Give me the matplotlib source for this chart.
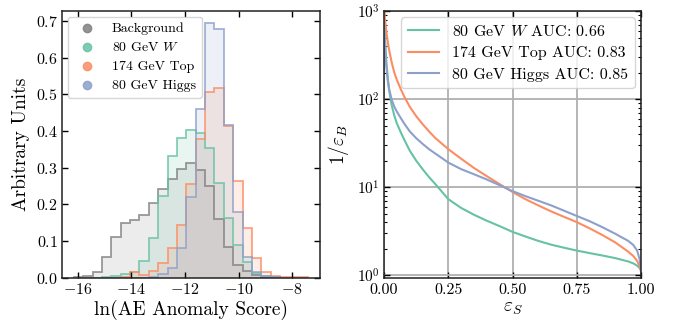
import numpy as np
import matplotlib
matplotlib.use("Agg")
import matplotlib.pyplot as plt

plt.rcParams['font.family'] = 'serif'
plt.rcParams['font.serif'] = ['cmr10']
plt.rcParams['mathtext.fontset'] = 'cm'
plt.rcParams['axes.unicode_minus'] = False
plt.rcParams['axes.formatter.use_mathtext'] = True

# ---------------- data ----------------
bin_edges = -16.15 + 0.35 * np.arange(26)

hist_labels = ["Background", "80 GeV $W$", "174 GeV Top", "80 GeV Higgs"]
hist_colors = ["#808080", "#66c2a5", "#fc8d62", "#8da0cb"]

bkg_density = [0.001, 0.003, 0.014, 0.055, 0.110, 0.150, 0.158, 0.170, 0.202, 0.242,
               0.269, 0.296, 0.311, 0.294, 0.249, 0.159, 0.084, 0.035, 0.017, 0.006,
               0.002, 0.001, 0.0, 0.0, 0.0]
w_density = [0.0, 0.0, 0.0, 0.001, 0.005, 0.010, 0.016, 0.045, 0.108, 0.221,
             0.331, 0.381, 0.402, 0.394, 0.352, 0.259, 0.162, 0.088, 0.043, 0.011,
             0.004, 0.001, 0.0, 0.0, 0.0]
top_density = [0.0, 0.0, 0.0, 0.0, 0.0, 0.002, 0.015, 0.008, 0.017, 0.040,
               0.081, 0.142, 0.255, 0.378, 0.505, 0.517, 0.413, 0.262, 0.135, 0.052,
               0.014, 0.004, 0.001, 0.002, 0.002]
higgs_density = [0.0, 0.0, 0.0, 0.0, 0.0, 0.0, 0.0, 0.0, 0.002, 0.009,
                 0.025, 0.081, 0.219, 0.460, 0.693, 0.677, 0.417, 0.179, 0.055, 0.014,
                 0.004, 0.001, 0.0, 0.0, 0.0]

roc_labels = ["80 GeV $W$ AUC: 0.66", "174 GeV Top AUC: 0.83", "80 GeV Higgs AUC: 0.85"]
roc_colors = ["#66c2a5", "#fc8d62", "#8da0cb"]

eff_s = [0.0, 0.003, 0.006, 0.01, 0.015, 0.02, 0.03, 0.04, 0.05, 0.065, 0.08, 0.1,
         0.125, 0.15, 0.175, 0.2, 0.25, 0.3, 0.35, 0.4, 0.45, 0.5, 0.55, 0.6, 0.65,
         0.7, 0.75, 0.8, 0.85, 0.9, 0.95, 0.97, 0.985, 0.995, 1.0]
w_inv_eb = [1000, 600, 380, 250, 170, 125, 85, 65, 53, 42, 34, 26,
            20, 16, 13, 10.8, 7.3, 5.8, 4.85, 4.15, 3.6, 3.1, 2.75, 2.45, 2.22,
            2.05, 1.9, 1.78, 1.67, 1.56, 1.43, 1.36, 1.28, 1.2, 1.15]
top_inv_eb = [1000, 850, 700, 560, 440, 360, 260, 200, 165, 130, 105, 82,
              64, 52, 43, 36, 27, 21, 16.5, 13.3, 10.8, 8.8, 7.3, 6.2, 5.3,
              4.6, 4.0, 3.4, 2.85, 2.35, 1.85, 1.65, 1.45, 1.25, 1.1]
higgs_inv_eb = [800, 450, 300, 220, 160, 130, 98, 82, 72, 61, 52, 43,
                36, 31, 27, 24, 19, 16, 14, 12.2, 10.5, 9.0, 7.9, 7.0, 6.2,
                5.4, 4.7, 4.1, 3.5, 2.95, 2.45, 2.2, 1.9, 1.5, 1.1]

# ---------------- figure ----------------
fig = plt.figure(figsize=(6.8, 3.24), dpi=100)
H = 324.0
W = 680.0
ax1 = fig.add_axes([62 / W, 1 - 277.5 / H, 258 / W, 266.5 / H])
ax2 = fig.add_axes([384 / W, 1 - 277.5 / H, 257 / W, 266.5 / H])

dens = [bkg_density, w_density, top_density, higgs_density]
for vals, col in zip(dens, hist_colors):
    ax1.stairs(vals, bin_edges, fill=True, color=col, alpha=0.15, linewidth=0)
for vals, col in zip(dens, hist_colors):
    ax1.stairs(vals, bin_edges, color=col, alpha=0.8, linewidth=1.3)

# legend handles: empty scatters
for col, lab in zip(hist_colors, hist_labels):
    ax1.scatter([], [], s=36, color=col, alpha=0.85, label=lab)

ax1.set_xlim(-16.59, -6.96)
ax1.set_ylim(0, 0.727)
ax1.set_xticks([-16, -14, -12, -10, -8])
ax1.set_yticks([0.0, 0.1, 0.2, 0.3, 0.4, 0.5, 0.6, 0.7])
ax1.set_xlabel("ln(AE Anomaly Score)", fontsize=14, labelpad=2)
ax1.set_ylabel("Arbitrary Units", fontsize=14, labelpad=4)

ax1.legend(loc='upper left', fontsize=10, handletextpad=0.8,
           borderaxespad=0.4, labelspacing=0.45,
           framealpha=0.8, edgecolor='#cccccc')

for vals, col, lab in zip([w_inv_eb, top_inv_eb, higgs_inv_eb], roc_colors, roc_labels):
    ax2.plot(eff_s, vals, color=col, linewidth=1.5, label=lab)

ax2.set_yscale('log')
ax2.set_xlim(0, 1)
ax2.set_ylim(0.94, 1000)
ax2.set_xticks([0.0, 0.25, 0.5, 0.75, 1.0])
ax2.set_xticklabels(["0.00", "0.25", "0.50", "0.75", "1.00"])
ax2.grid(True, which='major', color='#b0b0b0', linewidth=1.3)
ax2.set_axisbelow(True)
ax2.set_xlabel(r"$\varepsilon_S$", fontsize=14, labelpad=2)
ax2.set_ylabel(r"$1/\varepsilon_B$", fontsize=14, labelpad=4)
ax2.legend(loc='upper right', fontsize=11.5, handlelength=2.0,
           borderaxespad=0.4, labelspacing=0.45, framealpha=0.8,
           edgecolor='#cccccc')

for ax in (ax1, ax2):
    ax.tick_params(which='both', direction='in', top=True, right=True,
                   labelsize=11.5, pad=3)
    ax.tick_params(which='major', length=4, width=1)
    ax.tick_params(which='minor', length=2, width=0.8)
    for s in ax.spines.values():
        s.set_linewidth(1.1)
        s.set_color('#222222')
ax2.tick_params(axis='x', pad=4)
ax2.tick_params(axis='y', labelsize=11)

fig.savefig("out.png", dpi=100)
